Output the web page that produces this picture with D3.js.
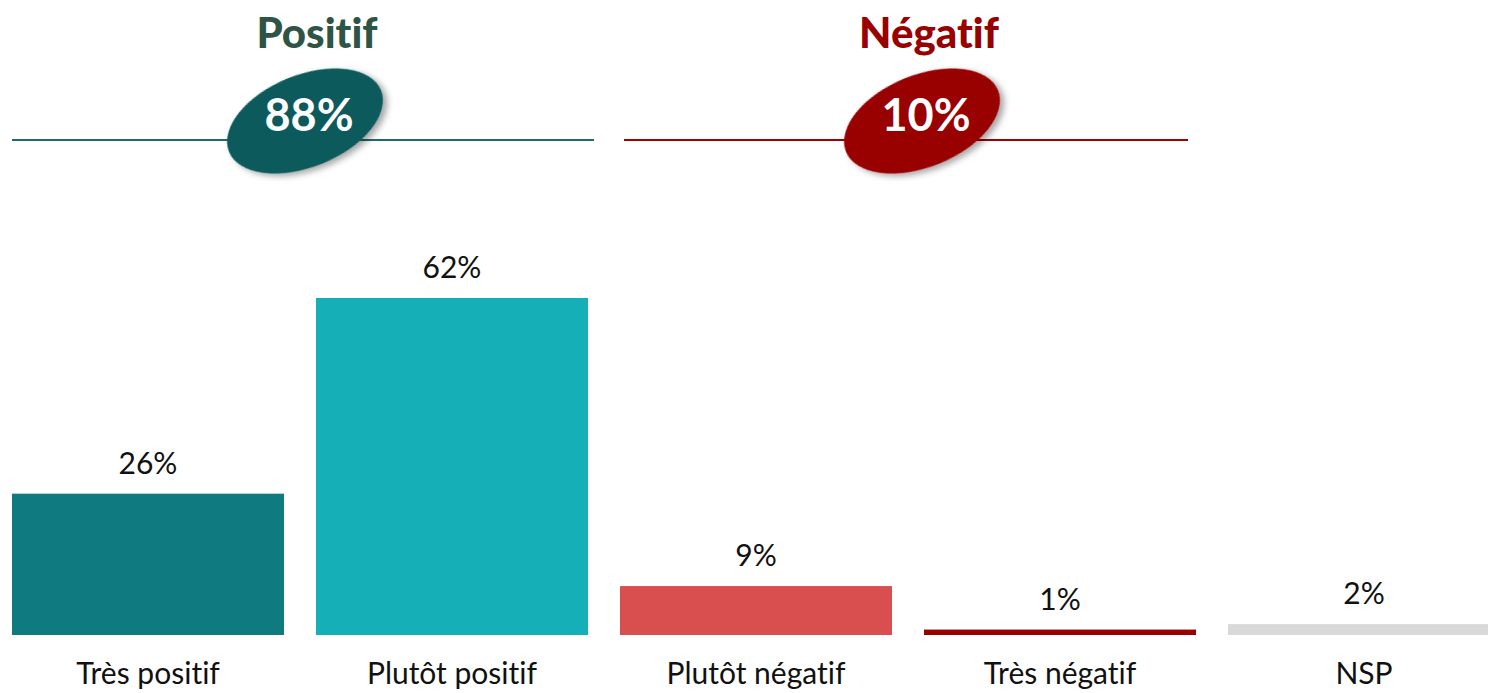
<!DOCTYPE html>
<html>
<head>
<meta charset="utf-8">
<script src="https://cdn.jsdelivr.net/npm/d3@7.9.0/dist/d3.min.js"></script>
<style>
  body { margin: 0; background: #fff; overflow: hidden; }
  svg { display: block; font-family: Lato, "Open Sans", sans-serif; font-variant-ligatures: none; }
</style>
</head>
<body>
<svg width="1488" height="693"></svg>
<script>
// chart data
const categories = ['Très positif', 'Plutôt positif', 'Plutôt négatif', 'Très négatif', 'NSP'];
const values = [26, 62, 9, 1, 2];
const barColors = ['#0f7a80', '#14afb7', '#d94f4f', '#990000', '#d9d9d9'];

const groupTitles = ['Positif', 'Négatif'];
const groupTotals = ['88%', '10%'];
const groupColors = ['#2e5446', '#990000'];
const ovalColors = ['#0d5a5d', '#990000'];

const svg = d3.select('svg');
const baseline = 635;

const x = d3.scaleBand()
    .domain(categories)
    .range([12, 1500])
    .paddingInner(32 / 304)
    .paddingOuter(0);

const y = d3.scaleLinear()
    .domain([0, 62])
    .range([baseline, 298]);

// drop shadow for the ovals
const defs = svg.append('defs');
const shadow = defs.append('filter').attr('id', 'shadow')
    .attr('x', '-30%').attr('y', '-30%').attr('width', '160%').attr('height', '160%');
shadow.append('feDropShadow')
    .attr('dx', 3).attr('dy', 4).attr('stdDeviation', 3)
    .attr('flood-color', '#000').attr('flood-opacity', 0.35);

// bars
svg.selectAll('rect.bar')
    .data(values)
    .join('rect')
    .attr('class', 'bar')
    .attr('x', (d, i) => x(categories[i]))
    .attr('y', d => y(d))
    .attr('width', x.bandwidth())
    .attr('height', d => baseline - y(d))
    .attr('fill', (d, i) => barColors[i]);

// value labels
svg.selectAll('text.value')
    .data(values)
    .join('text')
    .attr('class', 'value')
    .attr('x', (d, i) => x(categories[i]) + x.bandwidth() / 2)
    .attr('y', d => y(d) - 20)
    .attr('text-anchor', 'middle')
    .attr('font-size', 30)
    .attr('fill', '#111')
    .text(d => d + '%');

// category labels
svg.selectAll('text.cat')
    .data(categories)
    .join('text')
    .attr('class', 'cat')
    .attr('x', d => x(d) + x.bandwidth() / 2)
    .attr('y', 684)
    .attr('text-anchor', 'middle')
    .attr('font-size', 30)
    .attr('fill', '#111')
    .text(d => d);

// group headers: line, title, oval with total
const groups = [
    { x1: 12, x2: 594, cx: 305, tx: 317 },
    { x1: 624, x2: 1188, cx: 922, tx: 929 }
];

groups.forEach((g, i) => {
    svg.append('line')
        .attr('x1', g.x1).attr('x2', g.x2)
        .attr('y1', 140).attr('y2', 140)
        .attr('stroke', i === 0 ? '#1f6b6b' : '#a00000')
        .attr('stroke-width', 2);

    svg.append('text')
        .attr('x', g.tx)
        .attr('y', 48)
        .attr('text-anchor', 'middle')
        .attr('font-size', 42)
        .attr('font-weight', 900)
        .attr('fill', groupColors[i])
        .text(groupTitles[i]);

    svg.append('ellipse')
        .attr('cx', g.cx).attr('cy', 121)
        .attr('rx', 82).attr('ry', 46)
        .attr('transform', `rotate(-22 ${g.cx} 121)`)
        .attr('fill', ovalColors[i])
        .attr('filter', 'url(#shadow)');

    svg.append('text')
        .attr('x', g.cx + 4)
        .attr('y', 131)
        .attr('text-anchor', 'middle')
        .attr('font-size', 45)
        .attr('font-weight', 'bold')
        .attr('fill', '#fff')
        .text(groupTotals[i]);
});
</script>
</body>
</html>
